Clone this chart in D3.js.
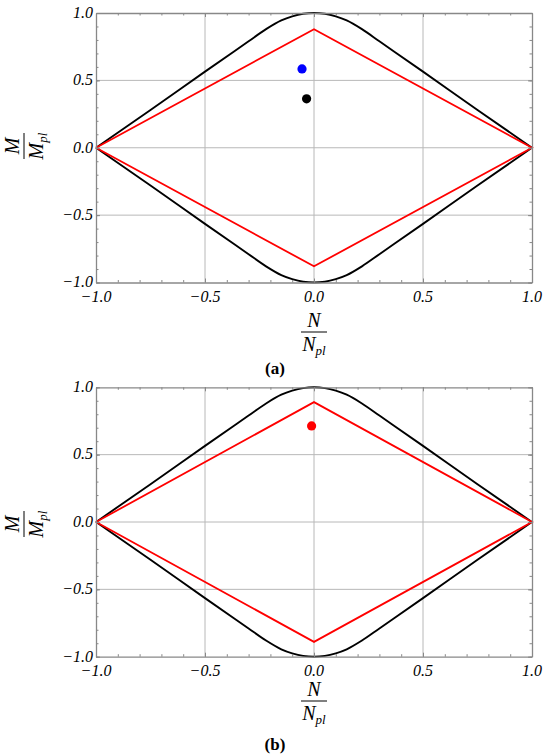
<!DOCTYPE html>
<html>
<head>
<meta charset="utf-8">
<script src="https://cdn.jsdelivr.net/npm/d3@7"></script>
<style>
  body { margin: 0; background: #fff; }
  svg { display: block; }
</style>
</head>
<body>
<svg id="chart" width="550" height="754"></svg>
<script>
// interaction curve (black), upper and lower branch
const curveN = [-1, -0.75, -0.5, -0.3, -0.22, -0.15, -0.1, -0.05, 0, 0.05, 0.1, 0.15, 0.22, 0.3, 0.5, 0.75, 1]
const curveUpper = [0, 0.28, 0.565, 0.79, 0.88, 0.945, 0.975, 0.994, 1, 0.994, 0.975, 0.945, 0.88, 0.79, 0.565, 0.28, 0]
const curveLower = [0, -0.28, -0.565, -0.79, -0.88, -0.945, -0.975, -0.994, -1, -0.994, -0.975, -0.945, -0.88, -0.79, -0.565, -0.28, 0]

// linear interaction (red diamond)
const diamondN = [-1, 0, 1, 0, -1]
const diamondA = [0, 0.88, 0, -0.88, 0]
const diamondB = [0, 0.89, 0, -0.89, 0]

// points
const pointsA = [
    { n: -0.055, m: 0.585, color: "#0000ff" },
    { n: -0.034, m: 0.363, color: "#000000" }
]
const pointsB = [
    { n: -0.011, m: 0.713, color: "#ff0000" }
]

const tickValues = [-1, -0.5, 0, 0.5, 1]
const tickLabels = ["\u22121.0", "\u22120.5", "0.0", "0.5", "1.0"]

const panels = [
    { top: 13, bottom: 282.5, diamond: diamondA, points: pointsA, caption: "(a)", captionY: 374, fracY: 332, ylabY: 146 },
    { top: 387.3, bottom: 656.7, diamond: diamondB, points: pointsB, caption: "(b)", captionY: 750, fracY: 701, ylabY: 524 }
]

const svg = d3.select("#chart")
const left = 96, right = 532
const serif = "'Liberation Serif', 'Times New Roman', Times, serif"

const x = d3.scaleLinear().domain([-1, 1]).range([left, right])

function fraction(g, num, den) {
    g.append("text")
        .attr("text-anchor", "middle")
        .attr("y", -5)
        .attr("font-family", serif).attr("font-style", "italic").attr("font-size", 20)
        .text(num)
    g.append("line")
        .attr("x1", -13).attr("x2", 13)
        .attr("stroke", "#000").attr("stroke-width", 1)
    const t = g.append("text")
        .attr("text-anchor", "middle")
        .attr("y", 19)
        .attr("font-family", serif).attr("font-style", "italic").attr("font-size", 20)
    t.append("tspan").text(den)
    t.append("tspan").attr("font-size", 13).attr("dy", 4).text("pl")
}

panels.forEach(p => {
    const y = d3.scaleLinear().domain([-1, 1]).range([p.bottom, p.top])
    const g = svg.append("g")

    // grid
    g.append("g").selectAll("line")
        .data([-0.5, 0, 0.5])
        .join("line")
        .attr("x1", d => x(d)).attr("x2", d => x(d))
        .attr("y1", p.top).attr("y2", p.bottom)
        .attr("stroke", "#b8b8b8").attr("stroke-width", 1)
    g.append("g").selectAll("line")
        .data([-0.5, 0, 0.5])
        .join("line")
        .attr("y1", d => y(d)).attr("y2", d => y(d))
        .attr("x1", left).attr("x2", right)
        .attr("stroke", "#b8b8b8").attr("stroke-width", 1)

    // curves
    const line = d3.line()
        .x(d => x(d[0]))
        .y(d => y(d[1]))
        .curve(d3.curveMonotoneX)

    g.append("path")
        .attr("d", line(curveN.map((n, i) => [n, curveUpper[i]])))
        .attr("fill", "none").attr("stroke", "#000").attr("stroke-width", 1.9)
    g.append("path")
        .attr("d", line(curveN.map((n, i) => [n, curveLower[i]])))
        .attr("fill", "none").attr("stroke", "#000").attr("stroke-width", 1.9)

    g.append("path")
        .attr("d", d3.line().x(d => x(d[0])).y(d => y(d[1]))(diamondN.map((n, i) => [n, p.diamond[i]])))
        .attr("fill", "none").attr("stroke", "#ff0000").attr("stroke-width", 1.8)

    g.append("g").selectAll("circle")
        .data(p.points)
        .join("circle")
        .attr("cx", d => x(d.n)).attr("cy", d => y(d.m))
        .attr("r", 4.6)
        .attr("fill", d => d.color)

    // frame with inward ticks, minor every 0.1 and major every 0.5
    const frameColor = "#888"
    const sides = [
        [d3.axisBottom, x, `translate(0,${p.bottom})`],
        [d3.axisTop, x, `translate(0,${p.top})`],
        [d3.axisLeft, y, `translate(${left},0)`],
        [d3.axisRight, y, `translate(${right},0)`]
    ]
    sides.forEach(([axisFn, scale, tr]) => {
        const minor = g.append("g").attr("transform", tr)
            .call(axisFn(scale).ticks(20).tickSizeInner(-2.5).tickSizeOuter(0).tickFormat(""))
        const major = g.append("g").attr("transform", tr)
            .call(axisFn(scale).tickValues(tickValues).tickSizeInner(-4).tickSizeOuter(0).tickFormat(""))
        minor.select(".domain").attr("stroke", frameColor).attr("stroke-width", 1.3)
        major.select(".domain").remove()
        minor.selectAll(".tick line").attr("stroke", frameColor)
        major.selectAll(".tick line").attr("stroke", frameColor)
    })

    // tick labels
    g.append("g").selectAll("text")
        .data(tickValues)
        .join("text")
        .attr("x", d => x(d)).attr("y", p.bottom + 14)
        .attr("dy", "0.35em")
        .attr("text-anchor", "middle")
        .attr("font-family", serif).attr("font-style", "italic").attr("font-size", 16)
        .text((d, i) => tickLabels[i])
    g.append("g").selectAll("text")
        .data(tickValues)
        .join("text")
        .attr("x", left - 3).attr("y", d => y(d))
        .attr("dy", "0.3em")
        .attr("text-anchor", "end")
        .attr("font-family", serif).attr("font-style", "italic").attr("font-size", 16)
        .text((d, i) => tickLabels[i])

    // axis labels
    fraction(svg.append("g").attr("transform", `translate(${x(0)},${p.fracY})`), "N", "N")
    fraction(svg.append("g").attr("transform", `translate(24,${p.ylabY}) rotate(-90)`), "M", "M")

    svg.append("text")
        .attr("x", 275).attr("y", p.captionY)
        .attr("text-anchor", "middle")
        .attr("font-family", serif).attr("font-weight", "bold").attr("font-size", 17)
        .text(p.caption)
})
</script>
</body>
</html>
